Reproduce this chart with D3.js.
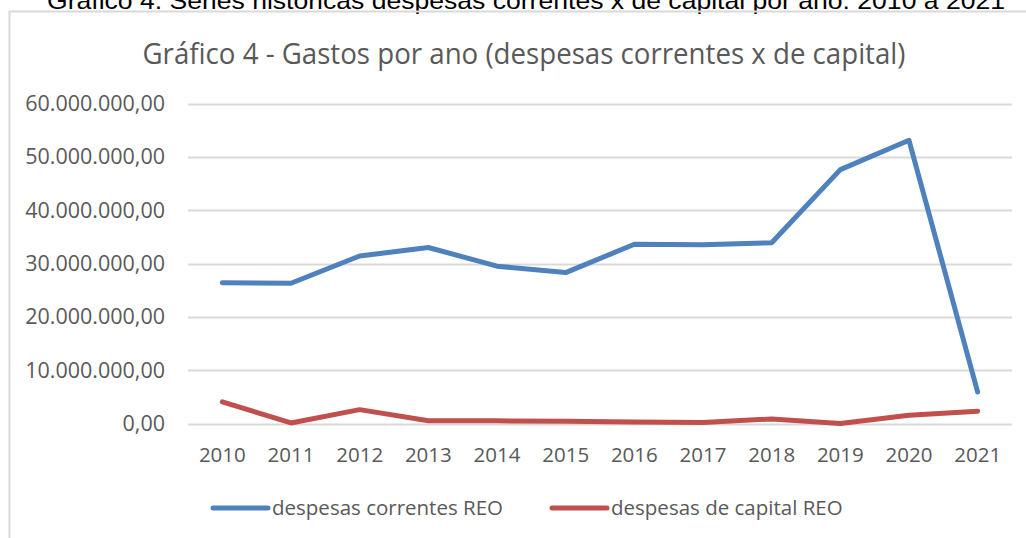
<!DOCTYPE html>
<html>
<head>
<meta charset="utf-8">
<script src="https://cdn.jsdelivr.net/npm/d3@7"></script>
<style>
  html, body { margin: 0; padding: 0; background: #fff; }
  svg { display: block; }
  text { font-family: "Open Sans", sans-serif; fill: #595959; }
</style>
</head>
<body>
<div id="chart"></div>
<script>
// Data
var years = ["2010", "2011", "2012", "2013", "2014", "2015", "2016", "2017", "2018", "2019", "2020", "2021"];
var correntes = [26.4e6, 26.3e6, 31.4e6, 33.0e6, 29.5e6, 28.3e6, 33.6e6, 33.5e6, 33.9e6, 47.6e6, 53.1e6, 5.9e6];
var capital = [4.05e6, 0.1e6, 2.6e6, 0.5e6, 0.5e6, 0.4e6, 0.3e6, 0.2e6, 0.85e6, 0.02e6, 1.55e6, 2.3e6];
var yTicks = [0, 10e6, 20e6, 30e6, 40e6, 50e6, 60e6];
var seriesNames = ["despesas correntes REO", "despesas de capital REO"];
var seriesColors = ["#4F81BD", "#C0504D"];

var width = 1026, height = 538;

var svg = d3.select("#chart").append("svg")
    .attr("width", width)
    .attr("height", height);

// caption above the chart frame (cut off at the top, as in the source)
svg.append("text")
   .attr("x", 47)
   .attr("y", 9)
   .attr("textLength", 958)
   .attr("lengthAdjust", "spacingAndGlyphs")
   .style("font-family", "'Liberation Sans', Arial, sans-serif")
   .style("font-size", "24px")
   .style("fill", "#000")
   .text("Gráfico 4: Séries históricas despesas correntes x de capital por ano: 2010 a 2021");

// chart frame (top + left edges visible)
svg.append("path")
   .attr("d", "M9.5,538 L9.5,11.5 L1026,11.5")
   .attr("fill", "none")
   .attr("stroke", "#D9D9D9")
   .attr("stroke-width", 2);

// title
svg.append("text")
   .attr("x", 524)
   .attr("y", 64)
   .attr("text-anchor", "middle")
   .attr("textLength", 763)
   .attr("lengthAdjust", "spacingAndGlyphs")
   .style("font-size", "29px")
   .text("Gráfico 4 - Gastos por ano (despesas correntes x de capital)");

var x = d3.scaleBand()
    .domain(years)
    .range([188, 1012]);

var y = d3.scaleLinear()
    .domain([0, 60e6])
    .range([423.5, 103.5]);

var fmt = function(v) {
    var s = d3.format(",.2f")(v);
    return s.replace(/,/g, "#").replace(".", ",").replace(/#/g, ".");
};

// gridlines
svg.append("g")
   .selectAll("line")
   .data(yTicks)
   .enter().append("line")
   .attr("x1", 188)
   .attr("x2", 1012)
   .attr("y1", d => Math.round(y(d)) + 0.5)
   .attr("y2", d => Math.round(y(d)) + 0.5)
   .attr("stroke", "#D9D9D9")
   .attr("stroke-width", 2);

// y labels
svg.append("g")
   .selectAll("text")
   .data(yTicks)
   .enter().append("text")
   .attr("x", 165)
   .attr("y", d => y(d))
   .attr("dy", "0.35em")
   .attr("text-anchor", "end")
   .style("font-size", "21.5px")
   .text(fmt);

// x labels
svg.append("g")
   .selectAll("text")
   .data(years)
   .enter().append("text")
   .attr("x", d => x(d) + x.bandwidth() / 2)
   .attr("y", 455)
   .attr("dy", "0.35em")
   .attr("text-anchor", "middle")
   .style("font-size", "20.5px")
   .text(d => d);

var line = d3.line()
    .x((d, i) => x(years[i]) + x.bandwidth() / 2)
    .y(d => y(d));

[correntes, capital].forEach(function(vals, i) {
    svg.append("path")
       .datum(vals)
       .attr("d", line)
       .attr("fill", "none")
       .attr("stroke", seriesColors[i])
       .attr("stroke-width", 5)
       .attr("stroke-linejoin", "round")
       .attr("stroke-linecap", "round");
});

// legend
var legendX = [213, 552];
var legend = svg.append("g")
   .selectAll("g")
   .data(seriesNames)
   .enter().append("g")
   .attr("transform", (d, i) => "translate(" + legendX[i] + ",508)");

legend.append("line")
   .attr("x1", 0)
   .attr("x2", 55)
   .attr("stroke", (d, i) => seriesColors[i])
   .attr("stroke-width", 5)
   .attr("stroke-linecap", "round");

legend.append("text")
   .attr("x", 59)
   .attr("dy", "0.35em")
   .style("font-size", "20.5px")
   .text(d => d);
</script>
</body>
</html>
